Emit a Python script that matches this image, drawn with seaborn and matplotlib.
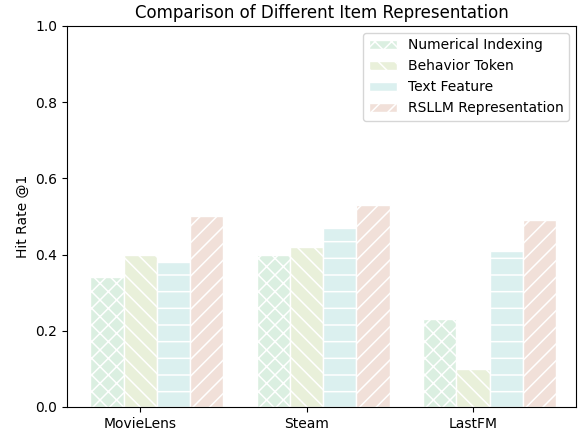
import matplotlib
matplotlib.use("Agg")
import matplotlib.pyplot as plt
import seaborn as sns
import pandas as pd

datasets = ["MovieLens", "Steam", "LastFM"]
methods = ["Numerical Indexing", "Behavior Token", "Text Feature", "RSLLM Representation"]
numerical_indexing = [0.34, 0.40, 0.23]
behavior_token = [0.40, 0.42, 0.10]
text_feature = [0.38, 0.47, 0.41]
rsllm_representation = [0.50, 0.53, 0.49]

colors = ["#dbefe1", "#e9f0da", "#dbf0ef", "#f1e0d9"]
hatches = ["xx", "\\\\", "-", "//"]

rows = []
for m, vals in zip(methods, [numerical_indexing, behavior_token, text_feature, rsllm_representation]):
    for d, v in zip(datasets, vals):
        rows.append({"Dataset": d, "Method": m, "Value": v})
df = pd.DataFrame(rows)

sns.set_theme(style="ticks", rc={
    "axes.edgecolor": "black",
    "xtick.color": "black",
    "ytick.color": "black",
    "axes.labelcolor": "black",
    "text.color": "black",
    "hatch.linewidth": 1.1,
})
plt.rcParams["font.family"] = ["DejaVu Sans"]

fig = plt.figure(figsize=(5.84, 4.32), dpi=100)
ax = fig.add_axes([0.1147, 0.0579, 0.8716, 0.882])

sns.barplot(data=df, x="Dataset", y="Value", hue="Method", order=datasets,
            hue_order=methods, palette=colors, width=0.8, saturation=1,
            edgecolor="white", linewidth=1, ax=ax, legend=True)

for cont, h in zip(ax.containers, hatches):
    for p in cont.patches:
        p.set_hatch(h)
        p.set_edgecolor("white")

ax.set_ylim(0, 1.0)
ax.set_xlim(-0.54, 2.52)
ax.set_xticks([i - 0.1 for i in range(len(datasets))])
ax.set_xticklabels(datasets, fontsize=10)
ax.tick_params(axis="both", labelsize=10, length=3.5, width=0.8, direction="out")
ax.set_yticks([0.0, 0.2, 0.4, 0.6, 0.8, 1.0])
ax.set_xlabel("")
ax.set_ylabel("Hit Rate @1", fontsize=10)
ax.set_title("Comparison of Different Item Representation", fontsize=12)
for s in ax.spines.values():
    s.set_visible(True)
    s.set_linewidth(0.8)

leg = ax.legend(loc="upper right", fontsize=10, frameon=True, fancybox=True)
for hpatch, h, c in zip(leg.legend_handles, hatches, colors):
    hpatch.set_hatch(h)
    hpatch.set_facecolor(c)
    hpatch.set_edgecolor("white")

fig.savefig("out.png", dpi=100)
